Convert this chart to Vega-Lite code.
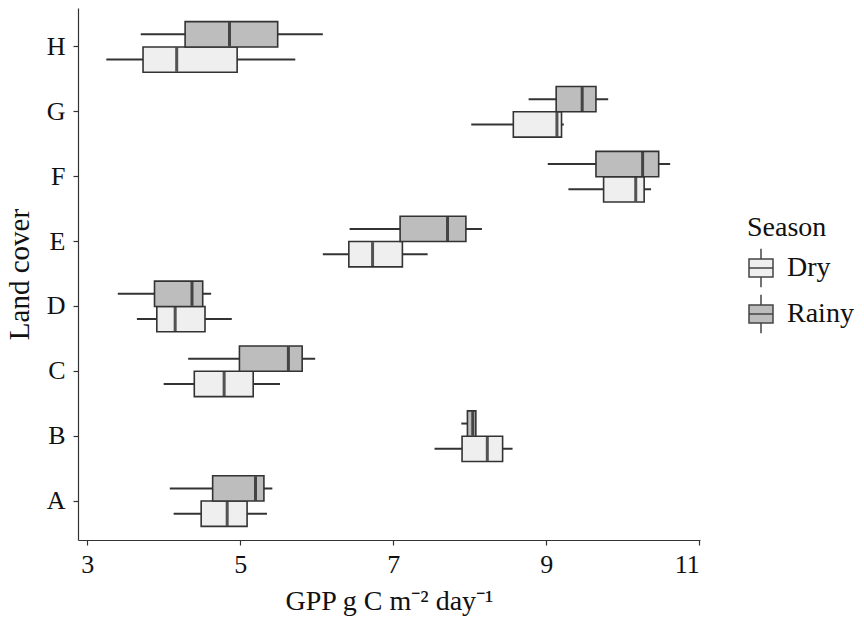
{
  "$schema": "https://vega.github.io/schema/vega-lite/v6.json",
  "autosize": "none",
  "width": 622,
  "height": 532,
  "padding": {"left": 78, "top": 8, "right": 164, "bottom": 95},
  "background": "white",
  "config": {
    "font": "Liberation Serif",
    "view": {"stroke": null},
    "axis": {"grid": false, "domainColor": "#333", "tickColor": "#333", "labelColor": "#111", "titleColor": "#111", "labelFont": "Liberation Serif", "titleFont": "Liberation Serif", "labelFontSize": 26, "titleFontSize": 28, "titleFontWeight": "normal", "domainWidth": 1.2, "tickWidth": 1.2, "tickSize": 5}
  },
  "data": {
    "values": [
      {"cover": "A", "season": "Dry", "lo": 4.13, "q1": 4.49, "med": 4.83, "q3": 5.09, "hi": 5.35},
      {"cover": "A", "season": "Rainy", "lo": 4.08, "q1": 4.64, "med": 5.2, "q3": 5.31, "hi": 5.42},
      {"cover": "B", "season": "Dry", "lo": 7.54, "q1": 7.9, "med": 8.23, "q3": 8.43, "hi": 8.56},
      {"cover": "B", "season": "Rainy", "lo": 7.89, "q1": 7.97, "med": 8.04, "q3": 8.08, "hi": 8.08},
      {"cover": "C", "season": "Dry", "lo": 4.0, "q1": 4.4, "med": 4.79, "q3": 5.17, "hi": 5.52},
      {"cover": "C", "season": "Rainy", "lo": 4.32, "q1": 4.99, "med": 5.63, "q3": 5.81, "hi": 5.98},
      {"cover": "D", "season": "Dry", "lo": 3.65, "q1": 3.91, "med": 4.15, "q3": 4.54, "hi": 4.89},
      {"cover": "D", "season": "Rainy", "lo": 3.4, "q1": 3.88, "med": 4.37, "q3": 4.51, "hi": 4.62},
      {"cover": "E", "season": "Dry", "lo": 6.08, "q1": 6.42, "med": 6.73, "q3": 7.12, "hi": 7.45},
      {"cover": "E", "season": "Rainy", "lo": 6.43, "q1": 7.09, "med": 7.71, "q3": 7.95, "hi": 8.16},
      {"cover": "F", "season": "Dry", "lo": 9.29, "q1": 9.75, "med": 10.17, "q3": 10.28, "hi": 10.37},
      {"cover": "F", "season": "Rainy", "lo": 9.02, "q1": 9.65, "med": 10.26, "q3": 10.47, "hi": 10.62},
      {"cover": "G", "season": "Dry", "lo": 8.02, "q1": 8.57, "med": 9.14, "q3": 9.2, "hi": 9.23},
      {"cover": "G", "season": "Rainy", "lo": 8.77, "q1": 9.13, "med": 9.47, "q3": 9.65, "hi": 9.81},
      {"cover": "H", "season": "Dry", "lo": 3.25, "q1": 3.73, "med": 4.17, "q3": 4.96, "hi": 5.72},
      {"cover": "H", "season": "Rainy", "lo": 3.7, "q1": 4.28, "med": 4.86, "q3": 5.49, "hi": 6.08}
    ]
  },
  "encoding": {
    "y": {"field": "cover", "type": "nominal", "sort": ["H", "G", "F", "E", "D", "C", "B", "A"],
      "scale": {"paddingInner": 0.22, "paddingOuter": 0.21},
      "axis": {"title": "Land cover", "labelPadding": 8, "titlePadding": 12, "titleFontSize": 29}},
    "yOffset": {"field": "season", "type": "nominal", "sort": ["Rainy", "Dry"], "scale": {"paddingInner": 0, "paddingOuter": 0}}
  },
  "layer": [
    {
      "mark": {"type": "rule", "color": "#333", "strokeWidth": 2},
      "encoding": {
        "x": {"field": "lo", "type": "quantitative", "scale": {"domain": [2.88, 11.01], "nice": false, "zero": false},
          "axis": {"values": [3, 5, 7, 9, 11], "format": "d", "title": "GPP g C  m⁻² day⁻¹", "labelPadding": 6, "titlePadding": 10}},
        "x2": {"field": "hi"}
      }
    },
    {
      "mark": {"type": "bar", "stroke": "#333", "strokeWidth": 1.6},
      "encoding": {
        "x": {"field": "q1", "type": "quantitative"},
        "x2": {"field": "q3"},
        "fill": {"field": "season", "type": "nominal", "sort": ["Dry", "Rainy"],
          "scale": {"domain": ["Dry", "Rainy"], "range": ["#EFEFEF", "#BDBDBD"]},
          "legend": {"title": "Season", "orient": "none", "legendX": 669, "legendY": 206,
            "titleFontSize": 28, "titleFont": "Liberation Serif", "titleFontWeight": "normal", "titleColor": "#111", "titlePadding": 12,
            "labelFontSize": 28, "labelFont": "Liberation Serif", "labelColor": "#111", "labelOffset": 12,
            "symbolType": "M-1,-0.75H1V0.75H-1Z M-1,0H1 M0,-0.75V-1.6 M0,0.75V1.6",
            "symbolSize": 576, "symbolStrokeColor": "#444", "symbolStrokeWidth": 1.5, "symbolOpacity": 1, "rowPadding": 0}}
      }
    },
    {
      "mark": {"type": "tick", "orient": "vertical", "color": "#111", "thickness": 3, "size": 24},
      "encoding": {
        "x": {"field": "med", "type": "quantitative"}
      }
    }
  ]
}
